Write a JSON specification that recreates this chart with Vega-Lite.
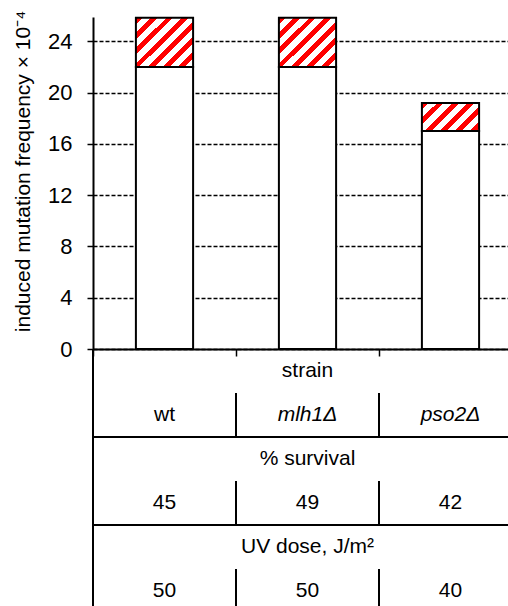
{
  "$schema": "https://vega.github.io/schema/vega-lite/v6.json",
  "background": "white",
  "padding": {"left": 12, "top": 10, "right": 0, "bottom": 0},
  "bounds": "flush",
  "spacing": 0,
  "config": {
    "view": {"stroke": null},
    "font": "Liberation Sans",
    "text": {"font": "Liberation Sans", "fontSize": 21, "color": "black"}
  },
  "datasets": {
    "bars": [
      {"strain": "wt", "base": 22, "total": 25.85},
      {"strain": "mlh1Δ", "base": 22, "total": 25.85},
      {"strain": "pso2Δ", "base": 17, "total": 19.2}
    ],
    "table": [
      {"row": "h1", "kind": "header", "label": "strain"},
      {"row": "v1", "kind": "value", "strain": "wt", "label": "wt", "italic": false},
      {"row": "v1", "kind": "value", "strain": "mlh1Δ", "label": "mlh1Δ", "italic": true},
      {"row": "v1", "kind": "value", "strain": "pso2Δ", "label": "pso2Δ", "italic": true},
      {"row": "h2", "kind": "header", "label": "% survival"},
      {"row": "v2", "kind": "value", "strain": "wt", "label": "45", "italic": false},
      {"row": "v2", "kind": "value", "strain": "mlh1Δ", "label": "49", "italic": false},
      {"row": "v2", "kind": "value", "strain": "pso2Δ", "label": "42", "italic": false},
      {"row": "h3", "kind": "header", "label": "UV dose, J/m²"},
      {"row": "v3", "kind": "value", "strain": "wt", "label": "50", "italic": false},
      {"row": "v3", "kind": "value", "strain": "mlh1Δ", "label": "50", "italic": false},
      {"row": "v3", "kind": "value", "strain": "pso2Δ", "label": "40", "italic": false}
    ]
  },
  "vconcat": [
    {
      "width": 429,
      "height": 332,
      "data": {"name": "bars"},
      "encoding": {
        "x": {
          "field": "strain",
          "type": "nominal",
          "sort": ["wt", "mlh1Δ", "pso2Δ"],
          "scale": {"type": "band", "paddingInner": 0, "paddingOuter": 0, "domain": ["wt", "mlh1Δ", "pso2Δ"]},
          "axis": {
            "title": null,
            "labels": false,
            "bandPosition": 0,
            "tickSize": 7,
            "tickColor": "black",
            "tickWidth": 1.5,
            "domainColor": "black",
            "domainWidth": 2,
            "grid": false
          }
        }
      },
      "layer": [
        {
          "mark": {"type": "bar", "width": {"band": 0.4}, "fill": "white", "stroke": "black", "strokeWidth": 2},
          "encoding": {
            "y": {
              "field": "base",
              "type": "quantitative",
              "scale": {"domain": [0, 25.9], "nice": false},
              "axis": {
                "values": [0, 4, 8, 12, 16, 20, 24],
                "title": "induced mutation frequency × 10⁻⁴",
                "titleFontSize": 21,
                "titleFontWeight": "normal",
                "titleFont": "Liberation Sans",
                "titleColor": "black",
                "titlePadding": 14,
                "titleY": 154,
                "labelFontSize": 22,
                "labelFont": "Liberation Sans",
                "labelColor": "black",
                "labelPadding": 15,
                "tickSize": 6,
                "tickColor": "black",
                "tickWidth": 1.5,
                "domainColor": "black",
                "domainWidth": 2,
                "grid": true,
                "gridColor": "black",
                "gridDash": [4, 2],
                "gridWidth": 1.3,
                "gridOpacity": 1
              }
            }
          }
        },
        {
          "transform": [{"filter": "datum.strain != 'pso2Δ'"}],
          "mark": {
            "type": "bar",
            "width": {"band": 0.4},
            "stroke": "black",
            "strokeWidth": 2,
            "fill": {
              "gradient": "linear",
              "x1": 0, "y1": 0, "x2": 1.066, "y2": 0.924,
              "stops": [
                {"offset": 0, "color": "#ff0000"},
                {"offset": 0.0643, "color": "#ff0000"},
                {"offset": 0.0643, "color": "#ffffff"},
                {"offset": 0.1429, "color": "#ffffff"},
                {"offset": 0.1429, "color": "#ff0000"},
                {"offset": 0.2071, "color": "#ff0000"},
                {"offset": 0.2071, "color": "#ffffff"},
                {"offset": 0.2857, "color": "#ffffff"},
                {"offset": 0.2857, "color": "#ff0000"},
                {"offset": 0.35, "color": "#ff0000"},
                {"offset": 0.35, "color": "#ffffff"},
                {"offset": 0.4286, "color": "#ffffff"},
                {"offset": 0.4286, "color": "#ff0000"},
                {"offset": 0.4929, "color": "#ff0000"},
                {"offset": 0.4929, "color": "#ffffff"},
                {"offset": 0.5714, "color": "#ffffff"},
                {"offset": 0.5714, "color": "#ff0000"},
                {"offset": 0.6357, "color": "#ff0000"},
                {"offset": 0.6357, "color": "#ffffff"},
                {"offset": 0.7143, "color": "#ffffff"},
                {"offset": 0.7143, "color": "#ff0000"},
                {"offset": 0.7786, "color": "#ff0000"},
                {"offset": 0.7786, "color": "#ffffff"},
                {"offset": 0.8571, "color": "#ffffff"},
                {"offset": 0.8571, "color": "#ff0000"},
                {"offset": 0.9214, "color": "#ff0000"},
                {"offset": 0.9214, "color": "#ffffff"},
                {"offset": 1, "color": "#ffffff"}
              ]
            }
          },
          "encoding": {
            "y": {"field": "base", "type": "quantitative"},
            "y2": {"field": "total"}
          }
        },
        {
          "transform": [{"filter": "datum.strain == 'pso2Δ'"}],
          "mark": {
            "type": "bar",
            "width": {"band": 0.4},
            "stroke": "black",
            "strokeWidth": 2,
            "fill": {
              "gradient": "linear",
              "x1": 0, "y1": 0, "x2": 1.201, "y2": 0.594,
              "stops": [
                {"offset": 0, "color": "#ff0000"},
                {"offset": 0.0801, "color": "#ff0000"},
                {"offset": 0.0801, "color": "#ffffff"},
                {"offset": 0.1781, "color": "#ffffff"},
                {"offset": 0.1781, "color": "#ff0000"},
                {"offset": 0.2582, "color": "#ff0000"},
                {"offset": 0.2582, "color": "#ffffff"},
                {"offset": 0.3562, "color": "#ffffff"},
                {"offset": 0.3562, "color": "#ff0000"},
                {"offset": 0.4363, "color": "#ff0000"},
                {"offset": 0.4363, "color": "#ffffff"},
                {"offset": 0.5343, "color": "#ffffff"},
                {"offset": 0.5343, "color": "#ff0000"},
                {"offset": 0.6144, "color": "#ff0000"},
                {"offset": 0.6144, "color": "#ffffff"},
                {"offset": 0.7124, "color": "#ffffff"},
                {"offset": 0.7124, "color": "#ff0000"},
                {"offset": 0.7925, "color": "#ff0000"},
                {"offset": 0.7925, "color": "#ffffff"},
                {"offset": 0.8905, "color": "#ffffff"},
                {"offset": 0.8905, "color": "#ff0000"},
                {"offset": 0.9706, "color": "#ff0000"},
                {"offset": 0.9706, "color": "#ffffff"},
                {"offset": 1, "color": "#ffffff"}
              ]
            }
          },
          "encoding": {
            "y": {"field": "base", "type": "quantitative"},
            "y2": {"field": "total"}
          }
        }
      ]
    },
    {
      "width": 429,
      "height": 264,
      "data": {"name": "table"},
      "layer": [
        {
          "transform": [{"filter": "datum.kind == 'value' && !datum.italic"}],
          "mark": {"type": "text", "fontSize": 21, "color": "black"},
          "encoding": {
            "x": {
              "field": "strain",
              "type": "nominal",
              "scale": {"type": "band", "paddingInner": 0, "paddingOuter": 0, "domain": ["wt", "mlh1Δ", "pso2Δ"]},
              "axis": null
            },
            "y": {
              "field": "row",
              "type": "nominal",
              "scale": {"type": "band", "paddingInner": 0, "paddingOuter": 0, "domain": ["h1", "v1", "h2", "v2", "h3", "v3"]},
              "axis": null
            },
            "text": {"field": "label"}
          }
        },
        {
          "transform": [{"filter": "datum.kind == 'value' && datum.italic"}],
          "mark": {"type": "text", "fontSize": 21, "fontStyle": "italic", "color": "black"},
          "encoding": {
            "x": {"field": "strain", "type": "nominal"},
            "y": {"field": "row", "type": "nominal"},
            "text": {"field": "label"}
          }
        },
        {
          "transform": [{"filter": "datum.kind == 'header'"}],
          "mark": {"type": "text", "fontSize": 21, "color": "black"},
          "encoding": {
            "y": {"field": "row", "type": "nominal"},
            "text": {"field": "label"}
          }
        },
        {
          "transform": [{"filter": "datum.kind == 'value' && datum.strain != 'wt'"}],
          "mark": {"type": "rule", "color": "black", "strokeWidth": 2},
          "encoding": {
            "x": {"field": "strain", "type": "nominal", "bandPosition": 0},
            "y": {"field": "row", "type": "nominal", "bandPosition": 0},
            "y2": {"field": "row", "bandPosition": 1}
          }
        },
        {
          "transform": [{"filter": "datum.kind == 'header' && datum.row != 'h1'"}],
          "mark": {"type": "rule", "color": "black", "strokeWidth": 2},
          "encoding": {
            "y": {"field": "row", "type": "nominal", "bandPosition": 0}
          }
        },
        {
          "transform": [{"filter": "datum.row == 'v1' && datum.strain == 'wt'"}],
          "mark": {"type": "rule", "color": "black", "strokeWidth": 2},
          "encoding": {
            "x": {"field": "strain", "type": "nominal", "bandPosition": 0}
          }
        }
      ]
    }
  ]
}
